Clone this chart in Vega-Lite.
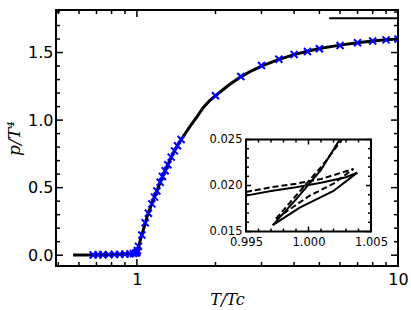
{
  "$schema": "https://vega.github.io/schema/vega-lite/v6.json",
  "width": 342,
  "height": 256,
  "autosize": {"type": "none"},
  "padding": {"left": 56, "top": 10, "right": 13, "bottom": 44},
  "background": "white",
  "config": {
    "view": {"stroke": "black", "strokeWidth": 2},
    "axis": {"domain": false, "grid": false, "ticks": false, "tickSize": 0, "labelColor": "black", "labelFont": "DejaVu Sans", "titleColor": "black"}
  },
  "datasets": {
    "curve": [
      {"T": 0.57, "p": 0.001}, {"T": 0.65, "p": 0.002}, {"T": 0.7, "p": 0.003}, {"T": 0.8, "p": 0.005},
      {"T": 0.9, "p": 0.009}, {"T": 0.95, "p": 0.013}, {"T": 0.98, "p": 0.017}, {"T": 1.0, "p": 0.022},
      {"T": 1.01, "p": 0.045}, {"T": 1.03, "p": 0.11}, {"T": 1.05, "p": 0.165}, {"T": 1.1, "p": 0.3},
      {"T": 1.15, "p": 0.4}, {"T": 1.2, "p": 0.49}, {"T": 1.25, "p": 0.575}, {"T": 1.3, "p": 0.65},
      {"T": 1.35, "p": 0.72}, {"T": 1.4, "p": 0.78}, {"T": 1.45, "p": 0.83}, {"T": 1.5, "p": 0.875},
      {"T": 1.6, "p": 0.955}, {"T": 1.7, "p": 1.025}, {"T": 1.8, "p": 1.095}, {"T": 1.9, "p": 1.145},
      {"T": 2.0, "p": 1.18}, {"T": 2.25, "p": 1.26}, {"T": 2.5, "p": 1.32}, {"T": 2.75, "p": 1.365},
      {"T": 3.0, "p": 1.4}, {"T": 3.5, "p": 1.45}, {"T": 4.0, "p": 1.485}, {"T": 4.5, "p": 1.51},
      {"T": 5.0, "p": 1.53}, {"T": 6.0, "p": 1.555}, {"T": 7.0, "p": 1.572}, {"T": 8.0, "p": 1.585},
      {"T": 9.0, "p": 1.594}, {"T": 10.0, "p": 1.6}
    ],
    "sb": [{"T": 5.45, "p": 1.7546}, {"T": 10, "p": 1.7546}],
    "lattice": [
      {"T": 0.68, "p": 0.002}, {"T": 0.71, "p": 0.003}, {"T": 0.74, "p": 0.003}, {"T": 0.78, "p": 0.004},
      {"T": 0.82, "p": 0.005}, {"T": 0.86, "p": 0.006}, {"T": 0.9, "p": 0.008}, {"T": 0.94, "p": 0.01},
      {"T": 0.97, "p": 0.013}, {"T": 0.99, "p": 0.016}, {"T": 1.0, "p": 0.02}, {"T": 1.005, "p": 0.035},
      {"T": 1.014, "p": 0.065}, {"T": 1.045, "p": 0.15}, {"T": 1.076, "p": 0.24}, {"T": 1.107, "p": 0.31},
      {"T": 1.141, "p": 0.38}, {"T": 1.168, "p": 0.43}, {"T": 1.193, "p": 0.475}, {"T": 1.228, "p": 0.54},
      {"T": 1.253, "p": 0.583}, {"T": 1.283, "p": 0.625}, {"T": 1.314, "p": 0.67}, {"T": 1.353, "p": 0.726},
      {"T": 1.393, "p": 0.772}, {"T": 1.43, "p": 0.81}, {"T": 1.477, "p": 0.856},
      {"T": 2.0, "p": 1.18}, {"T": 2.5, "p": 1.323}, {"T": 3.0, "p": 1.404}, {"T": 3.5, "p": 1.451},
      {"T": 4.0, "p": 1.486}, {"T": 4.5, "p": 1.508}, {"T": 5.0, "p": 1.528}, {"T": 6.0, "p": 1.552},
      {"T": 7.0, "p": 1.572}, {"T": 8.0, "p": 1.585}, {"T": 9.0, "p": 1.594}, {"T": 10.0, "p": 1.6}
    ],
    "main_xt": [
      {"T": 0.5, "kind": "minor", "side": "bottom"}, {"T": 0.6, "kind": "minor", "side": "bottom"}, {"T": 0.7, "kind": "minor", "side": "bottom"}, {"T": 0.8, "kind": "minor", "side": "bottom"}, {"T": 0.9, "kind": "minor", "side": "bottom"},
      {"T": 1, "kind": "major", "side": "bottom"}, {"T": 2, "kind": "minor", "side": "bottom"}, {"T": 3, "kind": "minor", "side": "bottom"}, {"T": 4, "kind": "minor", "side": "bottom"}, {"T": 5, "kind": "minor", "side": "bottom"},
      {"T": 6, "kind": "minor", "side": "bottom"}, {"T": 7, "kind": "minor", "side": "bottom"}, {"T": 8, "kind": "minor", "side": "bottom"}, {"T": 9, "kind": "minor", "side": "bottom"}, {"T": 10, "kind": "major", "side": "bottom"},
      {"T": 0.5, "kind": "minor", "side": "top"}, {"T": 0.6, "kind": "minor", "side": "top"}, {"T": 0.7, "kind": "minor", "side": "top"}, {"T": 0.8, "kind": "minor", "side": "top"}, {"T": 0.9, "kind": "minor", "side": "top"},
      {"T": 1, "kind": "major", "side": "top"}, {"T": 2, "kind": "minor", "side": "top"}, {"T": 3, "kind": "minor", "side": "top"}, {"T": 4, "kind": "minor", "side": "top"}, {"T": 5, "kind": "minor", "side": "top"},
      {"T": 6, "kind": "minor", "side": "top"}, {"T": 7, "kind": "minor", "side": "top"}, {"T": 8, "kind": "minor", "side": "top"}, {"T": 9, "kind": "minor", "side": "top"}, {"T": 10, "kind": "major", "side": "top"}
    ],
    "main_yt": [
      {"p": 0.0, "kind": "major", "side": "left"}, {"p": 0.1, "kind": "minor", "side": "left"}, {"p": 0.2, "kind": "minor", "side": "left"}, {"p": 0.3, "kind": "minor", "side": "left"}, {"p": 0.4, "kind": "minor", "side": "left"},
      {"p": 0.5, "kind": "major", "side": "left"}, {"p": 0.6, "kind": "minor", "side": "left"}, {"p": 0.7, "kind": "minor", "side": "left"}, {"p": 0.8, "kind": "minor", "side": "left"}, {"p": 0.9, "kind": "minor", "side": "left"},
      {"p": 1.0, "kind": "major", "side": "left"}, {"p": 1.1, "kind": "minor", "side": "left"}, {"p": 1.2, "kind": "minor", "side": "left"}, {"p": 1.3, "kind": "minor", "side": "left"}, {"p": 1.4, "kind": "minor", "side": "left"},
      {"p": 1.5, "kind": "major", "side": "left"}, {"p": 1.6, "kind": "minor", "side": "left"}, {"p": 1.7, "kind": "minor", "side": "left"}, {"p": 1.8, "kind": "minor", "side": "left"},
      {"p": 0.0, "kind": "major", "side": "right"}, {"p": 0.1, "kind": "minor", "side": "right"}, {"p": 0.2, "kind": "minor", "side": "right"}, {"p": 0.3, "kind": "minor", "side": "right"}, {"p": 0.4, "kind": "minor", "side": "right"},
      {"p": 0.5, "kind": "major", "side": "right"}, {"p": 0.6, "kind": "minor", "side": "right"}, {"p": 0.7, "kind": "minor", "side": "right"}, {"p": 0.8, "kind": "minor", "side": "right"}, {"p": 0.9, "kind": "minor", "side": "right"},
      {"p": 1.0, "kind": "major", "side": "right"}, {"p": 1.1, "kind": "minor", "side": "right"}, {"p": 1.2, "kind": "minor", "side": "right"}, {"p": 1.3, "kind": "minor", "side": "right"}, {"p": 1.4, "kind": "minor", "side": "right"},
      {"p": 1.5, "kind": "major", "side": "right"}, {"p": 1.6, "kind": "minor", "side": "right"}, {"p": 1.7, "kind": "minor", "side": "right"}, {"p": 1.8, "kind": "minor", "side": "right"}
    ],
    "inset_xt": [
      {"T": 0.995, "kind": "major", "side": "bottom"}, {"T": 0.996, "kind": "minor", "side": "bottom"}, {"T": 0.997, "kind": "minor", "side": "bottom"}, {"T": 0.998, "kind": "minor", "side": "bottom"}, {"T": 0.999, "kind": "minor", "side": "bottom"},
      {"T": 1.0, "kind": "major", "side": "bottom"}, {"T": 1.001, "kind": "minor", "side": "bottom"}, {"T": 1.002, "kind": "minor", "side": "bottom"}, {"T": 1.003, "kind": "minor", "side": "bottom"}, {"T": 1.004, "kind": "minor", "side": "bottom"},
      {"T": 1.005, "kind": "major", "side": "bottom"},
      {"T": 0.995, "kind": "major", "side": "top"}, {"T": 0.996, "kind": "minor", "side": "top"}, {"T": 0.997, "kind": "minor", "side": "top"}, {"T": 0.998, "kind": "minor", "side": "top"}, {"T": 0.999, "kind": "minor", "side": "top"},
      {"T": 1.0, "kind": "major", "side": "top"}, {"T": 1.001, "kind": "minor", "side": "top"}, {"T": 1.002, "kind": "minor", "side": "top"}, {"T": 1.003, "kind": "minor", "side": "top"}, {"T": 1.004, "kind": "minor", "side": "top"},
      {"T": 1.005, "kind": "major", "side": "top"}
    ],
    "inset_yt": [
      {"p": 0.015, "kind": "major", "side": "left"}, {"p": 0.016, "kind": "minor", "side": "left"}, {"p": 0.017, "kind": "minor", "side": "left"}, {"p": 0.018, "kind": "minor", "side": "left"}, {"p": 0.019, "kind": "minor", "side": "left"},
      {"p": 0.02, "kind": "major", "side": "left"}, {"p": 0.021, "kind": "minor", "side": "left"}, {"p": 0.022, "kind": "minor", "side": "left"}, {"p": 0.023, "kind": "minor", "side": "left"}, {"p": 0.024, "kind": "minor", "side": "left"},
      {"p": 0.025, "kind": "major", "side": "left"},
      {"p": 0.015, "kind": "major", "side": "right"}, {"p": 0.016, "kind": "minor", "side": "right"}, {"p": 0.017, "kind": "minor", "side": "right"}, {"p": 0.018, "kind": "minor", "side": "right"}, {"p": 0.019, "kind": "minor", "side": "right"},
      {"p": 0.02, "kind": "major", "side": "right"}, {"p": 0.021, "kind": "minor", "side": "right"}, {"p": 0.022, "kind": "minor", "side": "right"}, {"p": 0.023, "kind": "minor", "side": "right"}, {"p": 0.024, "kind": "minor", "side": "right"},
      {"p": 0.025, "kind": "major", "side": "right"}
    ],
    "inset_box": [{"x0": 0.995, "x1": 1.005, "y0": 0.015, "y1": 0.025}],
    "inset_solid": [
      {"branch": "confined", "T": 0.995, "p": 0.0189}, {"branch": "confined", "T": 0.997, "p": 0.0194},
      {"branch": "confined", "T": 0.999, "p": 0.0198}, {"branch": "confined", "T": 1.001, "p": 0.0203},
      {"branch": "confined", "T": 1.003, "p": 0.0209}, {"branch": "confined", "T": 1.0039, "p": 0.0214},
      {"branch": "deconfined", "T": 0.99714, "p": 0.0157}, {"branch": "deconfined", "T": 0.999, "p": 0.0185},
      {"branch": "deconfined", "T": 1.001, "p": 0.0217}, {"branch": "deconfined", "T": 1.0025, "p": 0.025},
      {"branch": "unstable", "T": 0.99714, "p": 0.0157}, {"branch": "unstable", "T": 0.9993, "p": 0.0176},
      {"branch": "unstable", "T": 1.002, "p": 0.0194}, {"branch": "unstable", "T": 1.0039, "p": 0.0214}
    ],
    "inset_dashed": [
      {"branch": "confined", "T": 0.995, "p": 0.0193}, {"branch": "confined", "T": 0.997, "p": 0.0198},
      {"branch": "confined", "T": 0.999, "p": 0.0202}, {"branch": "confined", "T": 1.001, "p": 0.0207},
      {"branch": "confined", "T": 1.0036, "p": 0.0218},
      {"branch": "deconfined", "T": 0.9974, "p": 0.0164}, {"branch": "deconfined", "T": 0.999, "p": 0.0189},
      {"branch": "deconfined", "T": 1.001, "p": 0.022}, {"branch": "deconfined", "T": 1.0027, "p": 0.025},
      {"branch": "unstable", "T": 0.9974, "p": 0.0164}, {"branch": "unstable", "T": 1.0001, "p": 0.0189},
      {"branch": "unstable", "T": 1.002, "p": 0.0202}, {"branch": "unstable", "T": 1.0036, "p": 0.0218}
    ]
  },
  "resolve": {"scale": {"x": "independent", "y": "independent"}, "axis": {"x": "independent", "y": "independent"}},
  "layer": [
    {
      "data": {"name": "curve"},
      "mark": {"type": "line", "color": "black", "strokeWidth": 3, "clip": true},
      "encoding": {
        "x": {"field": "T", "type": "quantitative", "scale": {"type": "log", "domain": [0.49, 10], "nice": false},
          "axis": {"orient": "bottom", "values": [1, 10], "format": "d", "labelPadding": 5, "labelFontSize": 16, "labelFlush": false,
            "title": "T/Tc", "titleFont": "DejaVu Serif", "titleFontStyle": "italic", "titleFontWeight": "normal", "titleFontSize": 16, "titlePadding": 4}},
        "y": {"field": "p", "type": "quantitative", "scale": {"domain": [-0.08, 1.815], "nice": false, "zero": false},
          "axis": {"orient": "left", "values": [0, 0.5, 1, 1.5], "format": ".1f", "labelPadding": 3, "labelFontSize": 16,
            "title": "p/T⁴", "titleFont": "DejaVu Serif", "titleFontStyle": "italic", "titleFontWeight": "normal", "titleFontSize": 17, "titlePadding": 4}}
      }
    },
    {
      "data": {"name": "sb"},
      "mark": {"type": "line", "color": "black", "strokeWidth": 2, "clip": true},
      "encoding": {
        "x": {"field": "T", "type": "quantitative", "scale": {"type": "log", "domain": [0.49, 10], "nice": false}, "axis": null},
        "y": {"field": "p", "type": "quantitative", "scale": {"domain": [-0.08, 1.815], "nice": false, "zero": false}, "axis": null}
      }
    },
    {
      "data": {"name": "lattice"},
      "mark": {"type": "point", "shape": "M-1,-1L1,1M-1,1L1,-1", "filled": false, "stroke": "#0000ff", "strokeWidth": 2, "size": 49, "opacity": 1, "clip": true},
      "encoding": {
        "x": {"field": "T", "type": "quantitative", "scale": {"type": "log", "domain": [0.49, 10], "nice": false}, "axis": null},
        "y": {"field": "p", "type": "quantitative", "scale": {"domain": [-0.08, 1.815], "nice": false, "zero": false}, "axis": null}
      }
    },
    {
      "data": {"name": "main_xt"},
      "transform": [{"filter": "datum.kind == 'major'"}],
      "mark": {"type": "point", "shape": "M0,-1L0,1", "filled": false, "stroke": "black", "strokeWidth": 1.5, "size": 196, "opacity": 1, "clip": true},
      "encoding": {
        "x": {"field": "T", "type": "quantitative", "scale": {"type": "log", "domain": [0.49, 10], "nice": false}, "axis": null},
        "y": {"field": "side", "type": "nominal", "scale": {"type": "point", "domain": ["top", "bottom"], "range": [0, 256], "padding": 0}, "axis": null}
      }
    },
    {
      "data": {"name": "main_xt"},
      "transform": [{"filter": "datum.kind == 'minor'"}],
      "mark": {"type": "point", "shape": "M0,-1L0,1", "filled": false, "stroke": "black", "strokeWidth": 1.5, "size": 64, "opacity": 1, "clip": true},
      "encoding": {
        "x": {"field": "T", "type": "quantitative", "scale": {"type": "log", "domain": [0.49, 10], "nice": false}, "axis": null},
        "y": {"field": "side", "type": "nominal", "scale": {"type": "point", "domain": ["top", "bottom"], "range": [0, 256], "padding": 0}, "axis": null}
      }
    },
    {
      "data": {"name": "main_yt"},
      "transform": [{"filter": "datum.kind == 'major'"}],
      "mark": {"type": "point", "shape": "M-1,0L1,0", "filled": false, "stroke": "black", "strokeWidth": 1.5, "size": 196, "opacity": 1, "clip": true},
      "encoding": {
        "y": {"field": "p", "type": "quantitative", "scale": {"domain": [-0.08, 1.815], "nice": false, "zero": false}, "axis": null},
        "x": {"field": "side", "type": "nominal", "scale": {"type": "point", "domain": ["left", "right"], "range": [0, 342], "padding": 0}, "axis": null}
      }
    },
    {
      "data": {"name": "main_yt"},
      "transform": [{"filter": "datum.kind == 'minor'"}],
      "mark": {"type": "point", "shape": "M-1,0L1,0", "filled": false, "stroke": "black", "strokeWidth": 1.5, "size": 64, "opacity": 1, "clip": true},
      "encoding": {
        "y": {"field": "p", "type": "quantitative", "scale": {"domain": [-0.08, 1.815], "nice": false, "zero": false}, "axis": null},
        "x": {"field": "side", "type": "nominal", "scale": {"type": "point", "domain": ["left", "right"], "range": [0, 342], "padding": 0}, "axis": null}
      }
    },
    {
      "data": {"name": "inset_box"},
      "mark": {"type": "rect", "fill": "white", "stroke": "black", "strokeWidth": 2},
      "encoding": {
        "x": {"field": "x0", "type": "quantitative", "scale": {"domain": [0.995, 1.005], "range": [190, 315], "nice": false, "zero": false},
          "axis": {"orient": "bottom", "zindex": 1, "offset": -34.5, "values": [0.995, 1.0, 1.005], "format": ".3f", "labelPadding": 5, "labelFontSize": 11.5, "labelFlush": false, "title": null}},
        "x2": {"field": "x1"},
        "y": {"field": "y0", "type": "quantitative", "scale": {"domain": [0.015, 0.025], "range": [221.5, 129.5], "nice": false, "zero": false},
          "axis": {"orient": "left", "zindex": 1, "offset": -190, "values": [0.015, 0.02, 0.025], "format": ".3f", "labelPadding": 4, "labelFontSize": 11.5, "labelFlush": false, "title": null}},
        "y2": {"field": "y1"}
      }
    },
    {
      "data": {"name": "inset_solid"},
      "mark": {"type": "line", "color": "black", "strokeWidth": 2},
      "encoding": {
        "detail": {"field": "branch"},
        "x": {"field": "T", "type": "quantitative", "scale": {"domain": [0.995, 1.005], "range": [190, 315], "nice": false, "zero": false}, "axis": null},
        "y": {"field": "p", "type": "quantitative", "scale": {"domain": [0.015, 0.025], "range": [221.5, 129.5], "nice": false, "zero": false}, "axis": null}
      }
    },
    {
      "data": {"name": "inset_dashed"},
      "mark": {"type": "line", "color": "black", "strokeWidth": 2, "strokeDash": [6, 3]},
      "encoding": {
        "detail": {"field": "branch"},
        "x": {"field": "T", "type": "quantitative", "scale": {"domain": [0.995, 1.005], "range": [190, 315], "nice": false, "zero": false}, "axis": null},
        "y": {"field": "p", "type": "quantitative", "scale": {"domain": [0.015, 0.025], "range": [221.5, 129.5], "nice": false, "zero": false}, "axis": null}
      }
    },
    {
      "data": {"name": "inset_xt"},
      "transform": [{"filter": "datum.kind == 'major' && datum.side == 'bottom'"}],
      "mark": {"type": "point", "shape": "M0,0L0,-1", "filled": false, "stroke": "black", "strokeWidth": 1.5, "size": 100, "opacity": 1},
      "encoding": {
        "x": {"field": "T", "type": "quantitative", "scale": {"domain": [0.995, 1.005], "range": [190, 315], "nice": false, "zero": false}, "axis": null},
        "y": {"field": "side", "type": "nominal", "scale": {"type": "point", "domain": ["top", "bottom"], "range": [129.5, 221.5], "padding": 0}, "axis": null}
      }
    },
    {
      "data": {"name": "inset_xt"},
      "transform": [{"filter": "datum.kind == 'minor' && datum.side == 'bottom'"}],
      "mark": {"type": "point", "shape": "M0,0L0,-1", "filled": false, "stroke": "black", "strokeWidth": 1.5, "size": 36, "opacity": 1},
      "encoding": {
        "x": {"field": "T", "type": "quantitative", "scale": {"domain": [0.995, 1.005], "range": [190, 315], "nice": false, "zero": false}, "axis": null},
        "y": {"field": "side", "type": "nominal", "scale": {"type": "point", "domain": ["top", "bottom"], "range": [129.5, 221.5], "padding": 0}, "axis": null}
      }
    },
    {
      "data": {"name": "inset_xt"},
      "transform": [{"filter": "datum.kind == 'major' && datum.side == 'top'"}],
      "mark": {"type": "point", "shape": "M0,0L0,1", "filled": false, "stroke": "black", "strokeWidth": 1.5, "size": 100, "opacity": 1},
      "encoding": {
        "x": {"field": "T", "type": "quantitative", "scale": {"domain": [0.995, 1.005], "range": [190, 315], "nice": false, "zero": false}, "axis": null},
        "y": {"field": "side", "type": "nominal", "scale": {"type": "point", "domain": ["top", "bottom"], "range": [129.5, 221.5], "padding": 0}, "axis": null}
      }
    },
    {
      "data": {"name": "inset_xt"},
      "transform": [{"filter": "datum.kind == 'minor' && datum.side == 'top'"}],
      "mark": {"type": "point", "shape": "M0,0L0,1", "filled": false, "stroke": "black", "strokeWidth": 1.5, "size": 36, "opacity": 1},
      "encoding": {
        "x": {"field": "T", "type": "quantitative", "scale": {"domain": [0.995, 1.005], "range": [190, 315], "nice": false, "zero": false}, "axis": null},
        "y": {"field": "side", "type": "nominal", "scale": {"type": "point", "domain": ["top", "bottom"], "range": [129.5, 221.5], "padding": 0}, "axis": null}
      }
    },
    {
      "data": {"name": "inset_yt"},
      "transform": [{"filter": "datum.kind == 'major' && datum.side == 'left'"}],
      "mark": {"type": "point", "shape": "M0,0L1,0", "filled": false, "stroke": "black", "strokeWidth": 1.5, "size": 100, "opacity": 1},
      "encoding": {
        "y": {"field": "p", "type": "quantitative", "scale": {"domain": [0.015, 0.025], "range": [221.5, 129.5], "nice": false, "zero": false}, "axis": null},
        "x": {"field": "side", "type": "nominal", "scale": {"type": "point", "domain": ["left", "right"], "range": [190, 315], "padding": 0}, "axis": null}
      }
    },
    {
      "data": {"name": "inset_yt"},
      "transform": [{"filter": "datum.kind == 'minor' && datum.side == 'left'"}],
      "mark": {"type": "point", "shape": "M0,0L1,0", "filled": false, "stroke": "black", "strokeWidth": 1.5, "size": 36, "opacity": 1},
      "encoding": {
        "y": {"field": "p", "type": "quantitative", "scale": {"domain": [0.015, 0.025], "range": [221.5, 129.5], "nice": false, "zero": false}, "axis": null},
        "x": {"field": "side", "type": "nominal", "scale": {"type": "point", "domain": ["left", "right"], "range": [190, 315], "padding": 0}, "axis": null}
      }
    },
    {
      "data": {"name": "inset_yt"},
      "transform": [{"filter": "datum.kind == 'major' && datum.side == 'right'"}],
      "mark": {"type": "point", "shape": "M0,0L-1,0", "filled": false, "stroke": "black", "strokeWidth": 1.5, "size": 100, "opacity": 1},
      "encoding": {
        "y": {"field": "p", "type": "quantitative", "scale": {"domain": [0.015, 0.025], "range": [221.5, 129.5], "nice": false, "zero": false}, "axis": null},
        "x": {"field": "side", "type": "nominal", "scale": {"type": "point", "domain": ["left", "right"], "range": [190, 315], "padding": 0}, "axis": null}
      }
    },
    {
      "data": {"name": "inset_yt"},
      "transform": [{"filter": "datum.kind == 'minor' && datum.side == 'right'"}],
      "mark": {"type": "point", "shape": "M0,0L-1,0", "filled": false, "stroke": "black", "strokeWidth": 1.5, "size": 36, "opacity": 1},
      "encoding": {
        "y": {"field": "p", "type": "quantitative", "scale": {"domain": [0.015, 0.025], "range": [221.5, 129.5], "nice": false, "zero": false}, "axis": null},
        "x": {"field": "side", "type": "nominal", "scale": {"type": "point", "domain": ["left", "right"], "range": [190, 315], "padding": 0}, "axis": null}
      }
    }
  ]
}
